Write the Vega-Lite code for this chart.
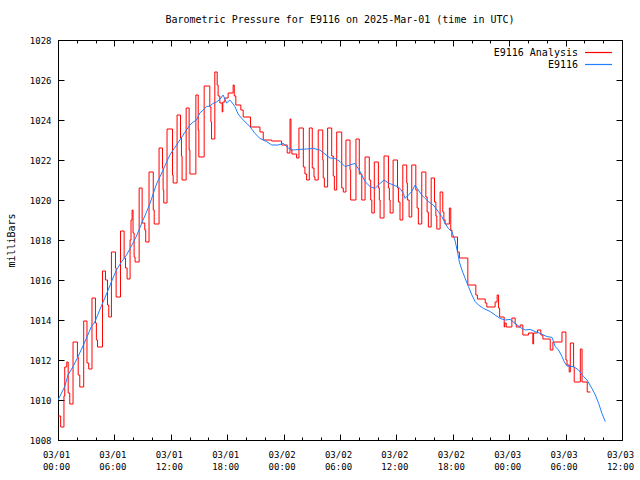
{
  "$schema": "https://vega.github.io/schema/vega-lite/v6.json",
  "width": 564,
  "height": 400,
  "autosize": {"type": "none"},
  "padding": {"left": 58, "top": 40, "right": 18, "bottom": 40},
  "background": "white",
  "title": {"text": "Barometric Pressure for E9116 on 2025-Mar-01 (time in UTC)", "font": "DejaVu Sans Mono", "fontSize": 10, "fontWeight": "normal", "color": "black", "anchor": "middle", "offset": 11},
  "config": {
    "view": {"stroke": "black", "strokeWidth": 1},
    "axis": {"grid": false, "domainColor": "black", "tickColor": "black", "labelColor": "black", "titleColor": "black", "labelFont": "DejaVu Sans Mono", "titleFont": "DejaVu Sans Mono", "labelFontSize": 9, "titleFontSize": 10, "titleFontWeight": "normal"}
  },
  "datasets": {
    "analysis": [
      {"t": "2025-03-01T00:00:00Z", "p": 1009.2}, {"t": "2025-03-01T00:17:00Z", "p": 1008.65}, {"t": "2025-03-01T00:38:00Z", "p": 1010.2}, {"t": "2025-03-01T00:43:00Z", "p": 1011.65}, {"t": "2025-03-01T00:56:00Z", "p": 1011.9}, {"t": "2025-03-01T01:05:00Z", "p": 1010.35}, {"t": "2025-03-01T01:15:00Z", "p": 1009.8},
      {"t": "2025-03-01T01:36:00Z", "p": 1012.9}, {"t": "2025-03-01T02:04:00Z", "p": 1012.15}, {"t": "2025-03-01T02:09:00Z", "p": 1011.25}, {"t": "2025-03-01T02:19:00Z", "p": 1010.65},
      {"t": "2025-03-01T02:44:00Z", "p": 1013.95}, {"t": "2025-03-01T03:05:00Z", "p": 1011.85}, {"t": "2025-03-01T03:16:00Z", "p": 1011.55},
      {"t": "2025-03-01T03:37:00Z", "p": 1015.1}, {"t": "2025-03-01T03:59:00Z", "p": 1013.85}, {"t": "2025-03-01T04:05:00Z", "p": 1013.0}, {"t": "2025-03-01T04:12:00Z", "p": 1012.65},
      {"t": "2025-03-01T04:44:00Z", "p": 1016.45}, {"t": "2025-03-01T05:03:00Z", "p": 1016.0}, {"t": "2025-03-01T05:16:00Z", "p": 1014.75}, {"t": "2025-03-01T05:24:00Z", "p": 1014.15},
      {"t": "2025-03-01T05:41:00Z", "p": 1017.4}, {"t": "2025-03-01T06:07:00Z", "p": 1016.6}, {"t": "2025-03-01T06:11:00Z", "p": 1015.15},
      {"t": "2025-03-01T06:39:00Z", "p": 1018.45}, {"t": "2025-03-01T07:02:00Z", "p": 1017.1}, {"t": "2025-03-01T07:11:00Z", "p": 1016.6}, {"t": "2025-03-01T07:21:00Z", "p": 1016.05},
      {"t": "2025-03-01T07:40:00Z", "p": 1018.0}, {"t": "2025-03-01T07:46:00Z", "p": 1019.0}, {"t": "2025-03-01T07:53:00Z", "p": 1019.5}, {"t": "2025-03-01T07:59:00Z", "p": 1018.35}, {"t": "2025-03-01T08:06:00Z", "p": 1017.15}, {"t": "2025-03-01T08:12:00Z", "p": 1016.9},
      {"t": "2025-03-01T08:38:00Z", "p": 1020.6}, {"t": "2025-03-01T08:57:00Z", "p": 1018.85}, {"t": "2025-03-01T09:14:00Z", "p": 1018.5}, {"t": "2025-03-01T09:20:00Z", "p": 1017.9},
      {"t": "2025-03-01T09:41:00Z", "p": 1021.4}, {"t": "2025-03-01T10:08:00Z", "p": 1019.5}, {"t": "2025-03-01T10:14:00Z", "p": 1018.8},
      {"t": "2025-03-01T10:45:00Z", "p": 1022.6}, {"t": "2025-03-01T11:07:00Z", "p": 1021.6}, {"t": "2025-03-01T11:11:00Z", "p": 1020.5}, {"t": "2025-03-01T11:15:00Z", "p": 1019.85},
      {"t": "2025-03-01T11:36:00Z", "p": 1023.55}, {"t": "2025-03-01T12:11:00Z", "p": 1021.25}, {"t": "2025-03-01T12:15:00Z", "p": 1020.85},
      {"t": "2025-03-01T12:40:00Z", "p": 1024.25}, {"t": "2025-03-01T13:02:00Z", "p": 1023.1}, {"t": "2025-03-01T13:08:00Z", "p": 1022.2}, {"t": "2025-03-01T13:12:00Z", "p": 1021.0},
      {"t": "2025-03-01T13:38:00Z", "p": 1024.6}, {"t": "2025-03-01T13:57:00Z", "p": 1022.5}, {"t": "2025-03-01T14:02:00Z", "p": 1021.3},
      {"t": "2025-03-01T14:40:00Z", "p": 1025.25}, {"t": "2025-03-01T14:55:00Z", "p": 1023.5}, {"t": "2025-03-01T14:59:00Z", "p": 1022.15},
      {"t": "2025-03-01T15:33:00Z", "p": 1025.7}, {"t": "2025-03-01T16:09:00Z", "p": 1024.65}, {"t": "2025-03-01T16:16:00Z", "p": 1023.9}, {"t": "2025-03-01T16:20:00Z", "p": 1023.05},
      {"t": "2025-03-01T16:41:00Z", "p": 1026.4}, {"t": "2025-03-01T16:56:00Z", "p": 1025.75}, {"t": "2025-03-01T17:02:00Z", "p": 1025.2}, {"t": "2025-03-01T17:13:00Z", "p": 1024.85}, {"t": "2025-03-01T17:28:00Z", "p": 1024.4}, {"t": "2025-03-01T17:32:00Z", "p": 1024.9}, {"t": "2025-03-01T17:45:00Z", "p": 1025.1},
      {"t": "2025-03-01T18:06:00Z", "p": 1025.35}, {"t": "2025-03-01T18:38:00Z", "p": 1025.75}, {"t": "2025-03-01T18:45:00Z", "p": 1025.2}, {"t": "2025-03-01T18:55:00Z", "p": 1024.75}, {"t": "2025-03-01T19:27:00Z", "p": 1024.5}, {"t": "2025-03-01T19:42:00Z", "p": 1024.15},
      {"t": "2025-03-01T20:29:00Z", "p": 1023.65}, {"t": "2025-03-01T21:29:00Z", "p": 1023.4}, {"t": "2025-03-01T21:50:00Z", "p": 1023.0}, {"t": "2025-03-01T22:44:00Z", "p": 1022.95}, {"t": "2025-03-01T23:47:00Z", "p": 1022.75},
      {"t": "2025-03-02T00:23:00Z", "p": 1022.35}, {"t": "2025-03-02T00:41:00Z", "p": 1024.05}, {"t": "2025-03-02T00:47:00Z", "p": 1022.5}, {"t": "2025-03-02T00:53:00Z", "p": 1022.3}, {"t": "2025-03-02T01:23:00Z", "p": 1022.1},
      {"t": "2025-03-02T01:38:00Z", "p": 1023.6}, {"t": "2025-03-02T02:06:00Z", "p": 1021.65}, {"t": "2025-03-02T02:16:00Z", "p": 1021.3}, {"t": "2025-03-02T02:27:00Z", "p": 1021.0},
      {"t": "2025-03-02T02:44:00Z", "p": 1023.6}, {"t": "2025-03-02T03:03:00Z", "p": 1021.6}, {"t": "2025-03-02T03:14:00Z", "p": 1021.15}, {"t": "2025-03-02T03:20:00Z", "p": 1021.0},
      {"t": "2025-03-02T03:41:00Z", "p": 1023.5}, {"t": "2025-03-02T04:10:00Z", "p": 1022.0}, {"t": "2025-03-02T04:13:00Z", "p": 1021.1}, {"t": "2025-03-02T04:20:00Z", "p": 1020.65},
      {"t": "2025-03-02T04:41:00Z", "p": 1023.6}, {"t": "2025-03-02T05:07:00Z", "p": 1022.2}, {"t": "2025-03-02T05:17:00Z", "p": 1021.2}, {"t": "2025-03-02T05:24:00Z", "p": 1020.5},
      {"t": "2025-03-02T05:39:00Z", "p": 1023.4}, {"t": "2025-03-02T06:11:00Z", "p": 1020.6}, {"t": "2025-03-02T06:21:00Z", "p": 1020.4},
      {"t": "2025-03-02T06:38:00Z", "p": 1023.0}, {"t": "2025-03-02T07:04:00Z", "p": 1021.5}, {"t": "2025-03-02T07:08:00Z", "p": 1020.0},
      {"t": "2025-03-02T07:42:00Z", "p": 1023.05}, {"t": "2025-03-02T08:03:00Z", "p": 1021.3}, {"t": "2025-03-02T08:19:00Z", "p": 1020.0},
      {"t": "2025-03-02T08:40:00Z", "p": 1022.15}, {"t": "2025-03-02T09:07:00Z", "p": 1021.0}, {"t": "2025-03-02T09:16:00Z", "p": 1020.0}, {"t": "2025-03-02T09:23:00Z", "p": 1019.35},
      {"t": "2025-03-02T09:39:00Z", "p": 1021.9}, {"t": "2025-03-02T10:05:00Z", "p": 1020.6}, {"t": "2025-03-02T10:11:00Z", "p": 1020.0}, {"t": "2025-03-02T10:16:00Z", "p": 1019.1},
      {"t": "2025-03-02T10:41:00Z", "p": 1022.2}, {"t": "2025-03-02T11:09:00Z", "p": 1020.6}, {"t": "2025-03-02T11:15:00Z", "p": 1020.0}, {"t": "2025-03-02T11:20:00Z", "p": 1019.35},
      {"t": "2025-03-02T11:39:00Z", "p": 1022.0}, {"t": "2025-03-02T12:07:00Z", "p": 1020.6}, {"t": "2025-03-02T12:13:00Z", "p": 1019.9}, {"t": "2025-03-02T12:23:00Z", "p": 1019.0},
      {"t": "2025-03-02T12:41:00Z", "p": 1021.75}, {"t": "2025-03-02T13:06:00Z", "p": 1020.85}, {"t": "2025-03-02T13:10:00Z", "p": 1020.0}, {"t": "2025-03-02T13:21:00Z", "p": 1019.15},
      {"t": "2025-03-02T13:38:00Z", "p": 1021.75}, {"t": "2025-03-02T14:04:00Z", "p": 1020.5}, {"t": "2025-03-02T14:12:00Z", "p": 1019.6}, {"t": "2025-03-02T14:20:00Z", "p": 1018.8},
      {"t": "2025-03-02T14:42:00Z", "p": 1021.4}, {"t": "2025-03-02T15:08:00Z", "p": 1020.15}, {"t": "2025-03-02T15:16:00Z", "p": 1019.4}, {"t": "2025-03-02T15:24:00Z", "p": 1018.65},
      {"t": "2025-03-02T15:42:00Z", "p": 1021.1}, {"t": "2025-03-02T16:03:00Z", "p": 1019.9}, {"t": "2025-03-02T16:12:00Z", "p": 1019.2}, {"t": "2025-03-02T16:18:00Z", "p": 1018.55},
      {"t": "2025-03-02T16:39:00Z", "p": 1020.4}, {"t": "2025-03-02T16:56:00Z", "p": 1019.4}, {"t": "2025-03-02T17:03:00Z", "p": 1019.0}, {"t": "2025-03-02T17:11:00Z", "p": 1018.8},
      {"t": "2025-03-02T17:38:00Z", "p": 1019.6}, {"t": "2025-03-02T17:47:00Z", "p": 1018.5}, {"t": "2025-03-02T17:54:00Z", "p": 1018.15},
      {"t": "2025-03-02T18:30:00Z", "p": 1017.4}, {"t": "2025-03-02T18:42:00Z", "p": 1017.1}, {"t": "2025-03-02T19:36:00Z", "p": 1015.75}, {"t": "2025-03-02T20:27:00Z", "p": 1015.25}, {"t": "2025-03-02T20:37:00Z", "p": 1015.05},
      {"t": "2025-03-02T21:27:00Z", "p": 1014.85}, {"t": "2025-03-02T21:37:00Z", "p": 1014.65}, {"t": "2025-03-02T22:30:00Z", "p": 1014.9}, {"t": "2025-03-02T22:43:00Z", "p": 1015.25}, {"t": "2025-03-02T22:52:00Z", "p": 1014.6}, {"t": "2025-03-02T22:59:00Z", "p": 1014.15},
      {"t": "2025-03-02T23:28:00Z", "p": 1013.65}, {"t": "2025-03-02T23:32:00Z", "p": 1013.85}, {"t": "2025-03-02T23:41:00Z", "p": 1013.65},
      {"t": "2025-03-03T00:17:00Z", "p": 1014.1}, {"t": "2025-03-03T00:38:00Z", "p": 1013.8}, {"t": "2025-03-03T00:45:00Z", "p": 1013.65}, {"t": "2025-03-03T01:10:00Z", "p": 1013.75}, {"t": "2025-03-03T01:27:00Z", "p": 1013.25},
      {"t": "2025-03-03T02:03:00Z", "p": 1013.35}, {"t": "2025-03-03T02:31:00Z", "p": 1012.8}, {"t": "2025-03-03T02:36:00Z", "p": 1013.35}, {"t": "2025-03-03T03:01:00Z", "p": 1013.5}, {"t": "2025-03-03T03:22:00Z", "p": 1013.25}, {"t": "2025-03-03T03:35:00Z", "p": 1013.05},
      {"t": "2025-03-03T04:22:00Z", "p": 1012.5}, {"t": "2025-03-03T04:39:00Z", "p": 1012.9}, {"t": "2025-03-03T05:37:00Z", "p": 1013.4}, {"t": "2025-03-03T06:02:00Z", "p": 1012.0}, {"t": "2025-03-03T06:09:00Z", "p": 1011.75}, {"t": "2025-03-03T06:23:00Z", "p": 1011.4},
      {"t": "2025-03-03T06:30:00Z", "p": 1012.85}, {"t": "2025-03-03T06:51:00Z", "p": 1011.65}, {"t": "2025-03-03T06:55:00Z", "p": 1010.9}, {"t": "2025-03-03T07:34:00Z", "p": 1012.55}, {"t": "2025-03-03T07:45:00Z", "p": 1010.9}, {"t": "2025-03-03T08:18:00Z", "p": 1010.4}, {"t": "2025-03-03T08:38:00Z", "p": 1010.4}
    ],
    "station": [
      {"t": "2025-03-01T00:00:00Z", "p": 1010.0}, {"t": "2025-03-01T00:43:00Z", "p": 1010.67}, {"t": "2025-03-01T01:04:00Z", "p": 1011.25}, {"t": "2025-03-01T01:36:00Z", "p": 1011.67}, {"t": "2025-03-01T02:08:00Z", "p": 1012.17}, {"t": "2025-03-01T02:51:00Z", "p": 1012.9},
      {"t": "2025-03-01T03:33:00Z", "p": 1013.67}, {"t": "2025-03-01T03:55:00Z", "p": 1013.9}, {"t": "2025-03-01T04:26:00Z", "p": 1014.5}, {"t": "2025-03-01T04:48:00Z", "p": 1014.9}, {"t": "2025-03-01T05:20:00Z", "p": 1015.5}, {"t": "2025-03-01T05:51:00Z", "p": 1016.1},
      {"t": "2025-03-01T06:13:00Z", "p": 1016.5}, {"t": "2025-03-01T06:45:00Z", "p": 1016.9}, {"t": "2025-03-01T07:17:00Z", "p": 1017.25}, {"t": "2025-03-01T07:38:00Z", "p": 1017.55}, {"t": "2025-03-01T07:59:00Z", "p": 1017.85}, {"t": "2025-03-01T08:21:00Z", "p": 1018.2},
      {"t": "2025-03-01T08:42:00Z", "p": 1018.6}, {"t": "2025-03-01T09:03:00Z", "p": 1019.0}, {"t": "2025-03-01T09:25:00Z", "p": 1019.4}, {"t": "2025-03-01T09:46:00Z", "p": 1019.8}, {"t": "2025-03-01T10:07:00Z", "p": 1020.3}, {"t": "2025-03-01T10:29:00Z", "p": 1020.8},
      {"t": "2025-03-01T10:50:00Z", "p": 1021.15}, {"t": "2025-03-01T11:11:00Z", "p": 1021.5}, {"t": "2025-03-01T11:33:00Z", "p": 1021.9}, {"t": "2025-03-01T11:54:00Z", "p": 1022.25}, {"t": "2025-03-01T12:15:00Z", "p": 1022.5}, {"t": "2025-03-01T12:37:00Z", "p": 1022.75},
      {"t": "2025-03-01T12:58:00Z", "p": 1023.0}, {"t": "2025-03-01T13:19:00Z", "p": 1023.25}, {"t": "2025-03-01T13:40:00Z", "p": 1023.5}, {"t": "2025-03-01T14:02:00Z", "p": 1023.75}, {"t": "2025-03-01T14:23:00Z", "p": 1023.9}, {"t": "2025-03-01T14:44:00Z", "p": 1024.0},
      {"t": "2025-03-01T15:05:00Z", "p": 1024.35}, {"t": "2025-03-01T15:27:00Z", "p": 1024.5}, {"t": "2025-03-01T15:48:00Z", "p": 1024.67}, {"t": "2025-03-01T16:09:00Z", "p": 1024.7}, {"t": "2025-03-01T16:30:00Z", "p": 1024.83}, {"t": "2025-03-01T16:52:00Z", "p": 1024.9},
      {"t": "2025-03-01T17:13:00Z", "p": 1025.03}, {"t": "2025-03-01T17:34:00Z", "p": 1025.25}, {"t": "2025-03-01T17:56:00Z", "p": 1024.85}, {"t": "2025-03-01T18:17:00Z", "p": 1025.0}, {"t": "2025-03-01T18:38:00Z", "p": 1024.8}, {"t": "2025-03-01T18:49:00Z", "p": 1024.67},
      {"t": "2025-03-01T19:10:00Z", "p": 1024.3}, {"t": "2025-03-01T19:32:00Z", "p": 1024.08}, {"t": "2025-03-01T19:53:00Z", "p": 1023.92}, {"t": "2025-03-01T20:25:00Z", "p": 1023.67}, {"t": "2025-03-01T20:57:00Z", "p": 1023.33}, {"t": "2025-03-01T21:29:00Z", "p": 1023.08},
      {"t": "2025-03-01T22:12:00Z", "p": 1022.92}, {"t": "2025-03-01T22:44:00Z", "p": 1022.75}, {"t": "2025-03-01T23:26:00Z", "p": 1022.75}, {"t": "2025-03-01T23:58:00Z", "p": 1022.83},
      {"t": "2025-03-02T00:30:00Z", "p": 1022.6}, {"t": "2025-03-02T01:02:00Z", "p": 1022.5}, {"t": "2025-03-02T01:44:00Z", "p": 1022.53}, {"t": "2025-03-02T02:27:00Z", "p": 1022.55}, {"t": "2025-03-02T03:09:00Z", "p": 1022.58}, {"t": "2025-03-02T03:52:00Z", "p": 1022.5},
      {"t": "2025-03-02T04:24:00Z", "p": 1022.3}, {"t": "2025-03-02T04:56:00Z", "p": 1022.1}, {"t": "2025-03-02T05:28:00Z", "p": 1022.08}, {"t": "2025-03-02T06:00:00Z", "p": 1021.92}, {"t": "2025-03-02T06:32:00Z", "p": 1021.67}, {"t": "2025-03-02T07:04:00Z", "p": 1021.75},
      {"t": "2025-03-02T07:36:00Z", "p": 1021.83}, {"t": "2025-03-02T08:08:00Z", "p": 1021.42}, {"t": "2025-03-02T08:40:00Z", "p": 1020.92}, {"t": "2025-03-02T09:12:00Z", "p": 1020.67}, {"t": "2025-03-02T09:44:00Z", "p": 1020.58}, {"t": "2025-03-02T10:16:00Z", "p": 1020.83},
      {"t": "2025-03-02T10:41:00Z", "p": 1021.0}, {"t": "2025-03-02T11:09:00Z", "p": 1020.85}, {"t": "2025-03-02T11:41:00Z", "p": 1020.75}, {"t": "2025-03-02T12:13:00Z", "p": 1020.65}, {"t": "2025-03-02T12:23:00Z", "p": 1020.58}, {"t": "2025-03-02T12:45:00Z", "p": 1020.33},
      {"t": "2025-03-02T12:55:00Z", "p": 1020.08}, {"t": "2025-03-02T13:16:00Z", "p": 1020.25}, {"t": "2025-03-02T13:38:00Z", "p": 1020.42}, {"t": "2025-03-02T13:59:00Z", "p": 1020.75}, {"t": "2025-03-02T14:20:00Z", "p": 1020.5}, {"t": "2025-03-02T14:42:00Z", "p": 1020.25},
      {"t": "2025-03-02T15:03:00Z", "p": 1020.08}, {"t": "2025-03-02T15:24:00Z", "p": 1019.92}, {"t": "2025-03-02T15:56:00Z", "p": 1019.75}, {"t": "2025-03-02T16:28:00Z", "p": 1019.42}, {"t": "2025-03-02T16:50:00Z", "p": 1019.17}, {"t": "2025-03-02T17:11:00Z", "p": 1018.83},
      {"t": "2025-03-02T17:32:00Z", "p": 1018.58}, {"t": "2025-03-02T17:54:00Z", "p": 1018.42}, {"t": "2025-03-02T18:15:00Z", "p": 1017.95}, {"t": "2025-03-02T18:30:00Z", "p": 1017.4}, {"t": "2025-03-02T18:42:00Z", "p": 1016.9}, {"t": "2025-03-02T18:58:00Z", "p": 1016.5},
      {"t": "2025-03-02T19:19:00Z", "p": 1016.08}, {"t": "2025-03-02T19:40:00Z", "p": 1015.67}, {"t": "2025-03-02T20:02:00Z", "p": 1015.25}, {"t": "2025-03-02T20:23:00Z", "p": 1014.92}, {"t": "2025-03-02T20:44:00Z", "p": 1014.75}, {"t": "2025-03-02T21:16:00Z", "p": 1014.58},
      {"t": "2025-03-02T21:59:00Z", "p": 1014.42}, {"t": "2025-03-02T22:30:00Z", "p": 1014.25}, {"t": "2025-03-02T23:02:00Z", "p": 1014.08}, {"t": "2025-03-02T23:34:00Z", "p": 1014.0},
      {"t": "2025-03-03T00:06:00Z", "p": 1014.03}, {"t": "2025-03-03T00:38:00Z", "p": 1013.83}, {"t": "2025-03-03T01:10:00Z", "p": 1013.63}, {"t": "2025-03-03T01:42:00Z", "p": 1013.5}, {"t": "2025-03-03T02:14:00Z", "p": 1013.53}, {"t": "2025-03-03T02:46:00Z", "p": 1013.42},
      {"t": "2025-03-03T03:18:00Z", "p": 1013.33}, {"t": "2025-03-03T04:01:00Z", "p": 1013.17}, {"t": "2025-03-03T04:33:00Z", "p": 1013.13}, {"t": "2025-03-03T04:54:00Z", "p": 1012.67}, {"t": "2025-03-03T05:15:00Z", "p": 1012.5}, {"t": "2025-03-03T05:37:00Z", "p": 1012.17},
      {"t": "2025-03-03T05:51:00Z", "p": 1011.92}, {"t": "2025-03-03T06:09:00Z", "p": 1011.7}, {"t": "2025-03-03T06:51:00Z", "p": 1011.67}, {"t": "2025-03-03T07:23:00Z", "p": 1011.5}, {"t": "2025-03-03T07:55:00Z", "p": 1011.17}, {"t": "2025-03-03T08:17:00Z", "p": 1011.0},
      {"t": "2025-03-03T08:48:00Z", "p": 1010.58}, {"t": "2025-03-03T09:10:00Z", "p": 1010.25}, {"t": "2025-03-03T09:31:00Z", "p": 1009.83}, {"t": "2025-03-03T09:52:00Z", "p": 1009.33}, {"t": "2025-03-03T10:13:00Z", "p": 1008.92}
    ]
  },
  "resolve": {"axis": {"x": "independent", "y": "independent"}},
  "layer": [
    {
      "data": {"name": "analysis"},
      "mark": {"type": "line", "interpolate": "step-after", "strokeWidth": 1, "clip": true},
      "encoding": {
        "x": {"field": "t", "type": "temporal",
              "scale": {"type": "utc", "domain": [{"year": 2025, "month": 3, "date": 1, "hours": 0, "utc": true}, {"year": 2025, "month": 3, "date": 3, "hours": 12, "utc": true}], "nice": false},
              "axis": {"orient": "bottom", "title": null,
                       "values": [
                         {"year": 2025, "month": 3, "date": 1, "hours": 0, "utc": true}, {"year": 2025, "month": 3, "date": 1, "hours": 6, "utc": true},
                         {"year": 2025, "month": 3, "date": 1, "hours": 12, "utc": true}, {"year": 2025, "month": 3, "date": 1, "hours": 18, "utc": true},
                         {"year": 2025, "month": 3, "date": 2, "hours": 0, "utc": true}, {"year": 2025, "month": 3, "date": 2, "hours": 6, "utc": true},
                         {"year": 2025, "month": 3, "date": 2, "hours": 12, "utc": true}, {"year": 2025, "month": 3, "date": 2, "hours": 18, "utc": true},
                         {"year": 2025, "month": 3, "date": 3, "hours": 0, "utc": true}, {"year": 2025, "month": 3, "date": 3, "hours": 6, "utc": true},
                         {"year": 2025, "month": 3, "date": 3, "hours": 12, "utc": true}],
                       "labelExpr": "[utcFormat(datum.value, '%m/%d'), utcFormat(datum.value, '%H:%M')]",
                       "tickSize": -6, "labelPadding": 16, "labelOverlap": false, "labelFlush": false, "labelLineHeight": 12, "labelOffset": -2}},
        "y": {"field": "p", "type": "quantitative",
              "scale": {"domain": [1008, 1028], "nice": false, "zero": false},
              "axis": {"orient": "left", "title": "milliBars", "format": "d", "values": [1008, 1010, 1012, 1014, 1016, 1018, 1020, 1022, 1024, 1026, 1028],
                       "tickSize": -6, "labelPadding": 13, "titlePadding": 13}},
        "color": {"datum": "E9116 Analysis", "type": "nominal",
                  "scale": {"domain": ["E9116 Analysis", "E9116"], "range": ["#ff0000", "#1e7fff"]},
                  "legend": {"orient": "top-right", "title": null, "symbolType": "M-3,0H3", "symbolSize": 81, "symbolStrokeWidth": 1.2,
                             "labelAlign": "right", "labelOffset": -26, "labelFont": "DejaVu Sans Mono", "labelFontSize": 10, "labelColor": "black",
                             "rowPadding": 1, "padding": 0, "offset": 7}}
      }
    },
    {
      "data": {"name": "station"},
      "mark": {"type": "line", "strokeWidth": 1, "clip": true},
      "encoding": {
        "x": {"field": "t", "type": "temporal",
              "axis": {"orient": "top", "title": null, "labels": false, "domain": false, "tickSize": -6,
                       "values": [
                         {"year": 2025, "month": 3, "date": 1, "hours": 0, "utc": true}, {"year": 2025, "month": 3, "date": 1, "hours": 6, "utc": true},
                         {"year": 2025, "month": 3, "date": 1, "hours": 12, "utc": true}, {"year": 2025, "month": 3, "date": 1, "hours": 18, "utc": true},
                         {"year": 2025, "month": 3, "date": 2, "hours": 0, "utc": true}, {"year": 2025, "month": 3, "date": 2, "hours": 6, "utc": true},
                         {"year": 2025, "month": 3, "date": 2, "hours": 12, "utc": true}, {"year": 2025, "month": 3, "date": 2, "hours": 18, "utc": true},
                         {"year": 2025, "month": 3, "date": 3, "hours": 0, "utc": true}, {"year": 2025, "month": 3, "date": 3, "hours": 6, "utc": true},
                         {"year": 2025, "month": 3, "date": 3, "hours": 12, "utc": true}]}},
        "y": {"field": "p", "type": "quantitative",
              "axis": {"orient": "right", "title": null, "labels": false, "domain": false, "tickSize": -6,
                       "values": [1008, 1010, 1012, 1014, 1016, 1018, 1020, 1022, 1024, 1026, 1028]}},
        "color": {"datum": "E9116", "type": "nominal"}
      }
    },
    {
      "data": {"name": "station"},
      "mark": {"type": "line", "opacity": 0, "clip": true},
      "encoding": {
        "x": {"field": "t", "type": "temporal",
              "axis": {"orient": "bottom", "title": null, "labels": false, "domain": false, "tickSize": -3,
                       "values": [
                         {"year": 2025, "month": 3, "date": 1, "hours": 2, "utc": true}, {"year": 2025, "month": 3, "date": 1, "hours": 4, "utc": true},
                         {"year": 2025, "month": 3, "date": 1, "hours": 8, "utc": true}, {"year": 2025, "month": 3, "date": 1, "hours": 10, "utc": true},
                         {"year": 2025, "month": 3, "date": 1, "hours": 14, "utc": true}, {"year": 2025, "month": 3, "date": 1, "hours": 16, "utc": true},
                         {"year": 2025, "month": 3, "date": 1, "hours": 20, "utc": true}, {"year": 2025, "month": 3, "date": 1, "hours": 22, "utc": true},
                         {"year": 2025, "month": 3, "date": 2, "hours": 2, "utc": true}, {"year": 2025, "month": 3, "date": 2, "hours": 4, "utc": true},
                         {"year": 2025, "month": 3, "date": 2, "hours": 8, "utc": true}, {"year": 2025, "month": 3, "date": 2, "hours": 10, "utc": true},
                         {"year": 2025, "month": 3, "date": 2, "hours": 14, "utc": true}, {"year": 2025, "month": 3, "date": 2, "hours": 16, "utc": true},
                         {"year": 2025, "month": 3, "date": 2, "hours": 20, "utc": true}, {"year": 2025, "month": 3, "date": 2, "hours": 22, "utc": true},
                         {"year": 2025, "month": 3, "date": 3, "hours": 2, "utc": true}, {"year": 2025, "month": 3, "date": 3, "hours": 4, "utc": true},
                         {"year": 2025, "month": 3, "date": 3, "hours": 8, "utc": true}, {"year": 2025, "month": 3, "date": 3, "hours": 10, "utc": true}]}},
        "y": {"field": "p", "type": "quantitative", "axis": null}
      }
    },
    {
      "data": {"name": "station"},
      "mark": {"type": "line", "opacity": 0, "clip": true},
      "encoding": {
        "x": {"field": "t", "type": "temporal",
              "axis": {"orient": "top", "title": null, "labels": false, "domain": false, "tickSize": -3,
                       "values": [
                         {"year": 2025, "month": 3, "date": 1, "hours": 2, "utc": true}, {"year": 2025, "month": 3, "date": 1, "hours": 4, "utc": true},
                         {"year": 2025, "month": 3, "date": 1, "hours": 8, "utc": true}, {"year": 2025, "month": 3, "date": 1, "hours": 10, "utc": true},
                         {"year": 2025, "month": 3, "date": 1, "hours": 14, "utc": true}, {"year": 2025, "month": 3, "date": 1, "hours": 16, "utc": true},
                         {"year": 2025, "month": 3, "date": 1, "hours": 20, "utc": true}, {"year": 2025, "month": 3, "date": 1, "hours": 22, "utc": true},
                         {"year": 2025, "month": 3, "date": 2, "hours": 2, "utc": true}, {"year": 2025, "month": 3, "date": 2, "hours": 4, "utc": true},
                         {"year": 2025, "month": 3, "date": 2, "hours": 8, "utc": true}, {"year": 2025, "month": 3, "date": 2, "hours": 10, "utc": true},
                         {"year": 2025, "month": 3, "date": 2, "hours": 14, "utc": true}, {"year": 2025, "month": 3, "date": 2, "hours": 16, "utc": true},
                         {"year": 2025, "month": 3, "date": 2, "hours": 20, "utc": true}, {"year": 2025, "month": 3, "date": 2, "hours": 22, "utc": true},
                         {"year": 2025, "month": 3, "date": 3, "hours": 2, "utc": true}, {"year": 2025, "month": 3, "date": 3, "hours": 4, "utc": true},
                         {"year": 2025, "month": 3, "date": 3, "hours": 8, "utc": true}, {"year": 2025, "month": 3, "date": 3, "hours": 10, "utc": true}]}},
        "y": {"field": "p", "type": "quantitative", "axis": null}
      }
    }
  ]
}
